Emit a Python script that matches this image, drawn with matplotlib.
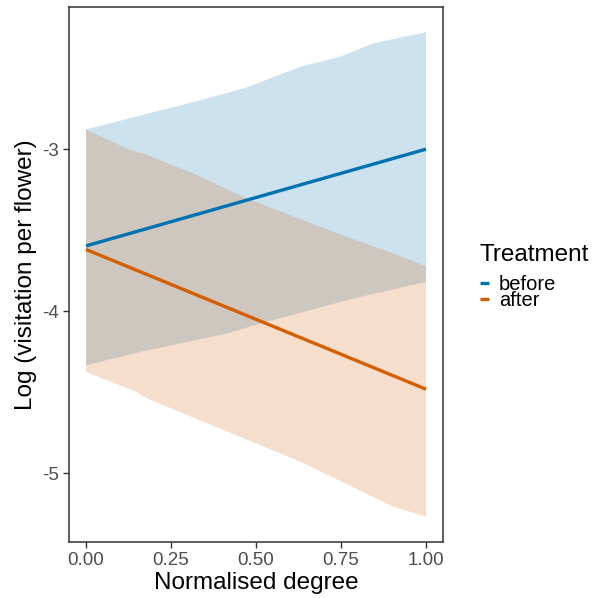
import matplotlib.pyplot as plt

plt.rcParams['font.family'] = ['Liberation Sans', 'DejaVu Sans']

# Fitted lines (normalised degree vs log visitation)
line_x = [0.0, 1.0]
before_fit = [-3.597, -3.0]
after_fit = [-3.619, -4.481]

# Confidence ribbons
before_x = [0.0, 0.346, 0.473, 0.630, 0.747, 0.845, 1.0]
before_upper = [-2.878, -2.693, -2.619, -2.492, -2.430, -2.347, -2.278]
before_lx = [0.0, 0.160, 0.414, 0.512, 0.786, 1.0]
before_lower = [-4.333, -4.251, -4.138, -4.076, -3.922, -3.819]

after_ux = [0.0, 0.130, 0.169, 0.316, 0.473, 0.728, 0.904, 1.0]
after_upper = [-2.878, -3.006, -3.027, -3.150, -3.304, -3.510, -3.644, -3.722]
after_lx = [0.0, 0.150, 0.169, 0.630, 0.904, 1.0]
after_lower = [-4.375, -4.498, -4.529, -4.928, -5.206, -5.268]

blue = '#0072B2'
orange = '#D55E00'

fig = plt.figure(figsize=(5.92, 5.98), dpi=100)
ax = fig.add_axes([0.1166, 0.0936, 0.6317, 0.8947])


def ribbon(xu, yu, xl, yl, color):
    xs = list(xu) + list(xl)[::-1]
    ys = list(yu) + list(yl)[::-1]
    ax.fill(xs, ys, color=color, alpha=0.2, linewidth=0)


ribbon(before_x, before_upper, before_lx, before_lower, blue)
ribbon(after_ux, after_upper, after_lx, after_lower, orange)
ax.plot(line_x, before_fit, color=blue, lw=2.4, label='before', solid_capstyle='butt')
ax.plot(line_x, after_fit, color=orange, lw=2.4, label='after', solid_capstyle='butt')

ax.set_xlim(-0.05, 1.05)
ax.set_ylim(-5.424, -2.123)
ax.set_xticks([0, 0.25, 0.5, 0.75, 1.0])
ax.set_xticklabels(['0.00', '0.25', '0.50', '0.75', '1.00'])
ax.set_yticks([-5, -4, -3])
ax.set_yticklabels(['-5', '-4', '-3'])
ax.tick_params(colors='#333333', labelcolor='#4D4D4D', labelsize=13.5, length=4, width=1, pad=3)
for s in ax.spines.values():
    s.set_color('#333333')
    s.set_linewidth(1.1)

ax.set_xlabel('Normalised degree', fontsize=17.5, labelpad=2)
ax.set_ylabel('Log (visitation per flower)', fontsize=17.5, labelpad=4)

leg = ax.legend(title='Treatment', loc='center left', bbox_to_anchor=(0.7936, 0.537),
                bbox_transform=fig.transFigure, frameon=False, fontsize=14.5,
                title_fontsize=17.5, handlelength=0.45, handletextpad=0.5,
                labelspacing=-0.12, alignment='left', borderpad=0)
leg._legend_box.sep = 6.5

fig.savefig('out.png', dpi=100)
